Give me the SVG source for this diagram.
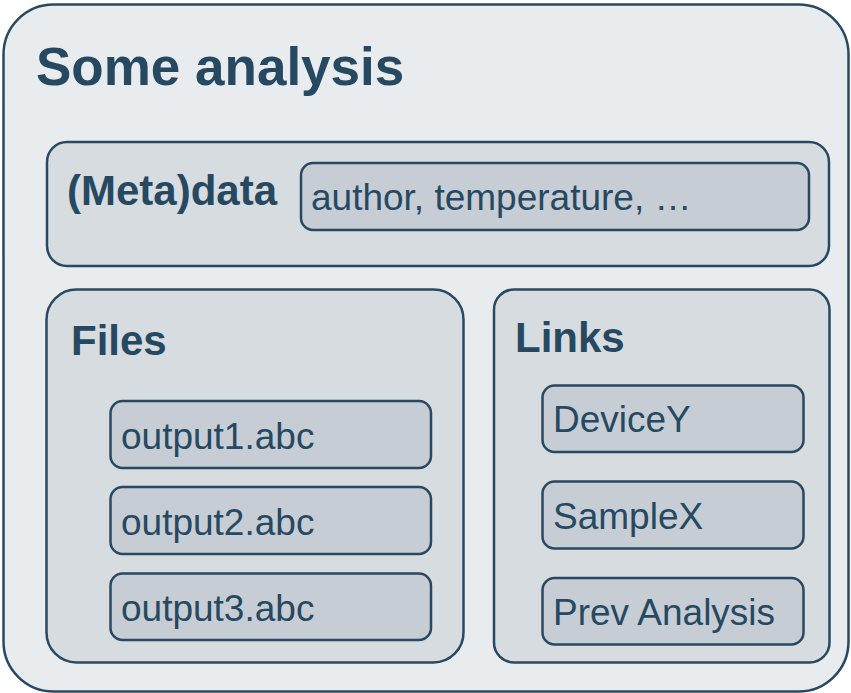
<svg xmlns="http://www.w3.org/2000/svg" width="851" height="693" viewBox="0 0 851 693">
<style>
  .box { stroke: #2a4960; stroke-width: 2.5; }
  .outer { fill: #e8ecef; }
  .sec { fill: #d6dce0; }
  .item { fill: #c6cdd4; }
  text { font-family: "Liberation Sans", Arial, sans-serif; fill: #264961; }
  .title { font-size: 53px; font-weight: bold; }
  .head { font-size: 42px; font-weight: bold; }
  .lbl { font-size: 37px; }
</style>
<rect width="851" height="693" fill="#ffffff"/>
<g id="analysis">
  <rect class="box outer" x="3.5" y="4.5" width="845" height="687" rx="50" ry="50"/>
  <text class="title" x="36" y="85">Some analysis</text>
</g>
<g id="metadata">
  <rect class="box sec" x="47" y="142" width="782" height="124" rx="20" ry="20"/>
  <text class="head" x="67" y="205">(Meta)data</text>
</g>
<g id="metadata-values">
  <rect class="box item" x="301" y="163" width="508" height="67" rx="12" ry="12"/>
  <text class="lbl" x="311" y="210">author, temperature, …</text>
</g>
<g id="files">
  <rect class="box sec" x="46.5" y="289.5" width="417" height="373" rx="30" ry="30"/>
  <text class="head" x="71" y="355">Files</text>
</g>
<g id="output1">
  <rect class="box item" x="110.5" y="401" width="320.5" height="67" rx="12" ry="12"/>
  <text class="lbl" x="121" y="449">output1.abc</text>
</g>
<g id="output2">
  <rect class="box item" x="110.5" y="487" width="320.5" height="67" rx="12" ry="12"/>
  <text class="lbl" x="121" y="535">output2.abc</text>
</g>
<g id="output3">
  <rect class="box item" x="110.5" y="573.5" width="320.5" height="66.5" rx="12" ry="12"/>
  <text class="lbl" x="121" y="621">output3.abc</text>
</g>
<g id="links">
  <rect class="box sec" x="494" y="289.5" width="335.5" height="373" rx="20" ry="20"/>
  <text class="head" x="515" y="352">Links</text>
</g>
<g id="deviceY">
  <rect class="box item" x="542.5" y="385.5" width="261" height="66.5" rx="12" ry="12"/>
  <text class="lbl" x="553" y="432">DeviceY</text>
</g>
<g id="sampleX">
  <rect class="box item" x="542.5" y="481.5" width="261" height="67" rx="12" ry="12"/>
  <text class="lbl" x="553" y="529">SampleX</text>
</g>
<g id="prevAnalysis">
  <rect class="box item" x="542.5" y="578" width="261" height="66.5" rx="12" ry="12"/>
  <text class="lbl" x="553" y="625">Prev Analysis</text>
</g>
<g id="connectors"></g>
</svg>
